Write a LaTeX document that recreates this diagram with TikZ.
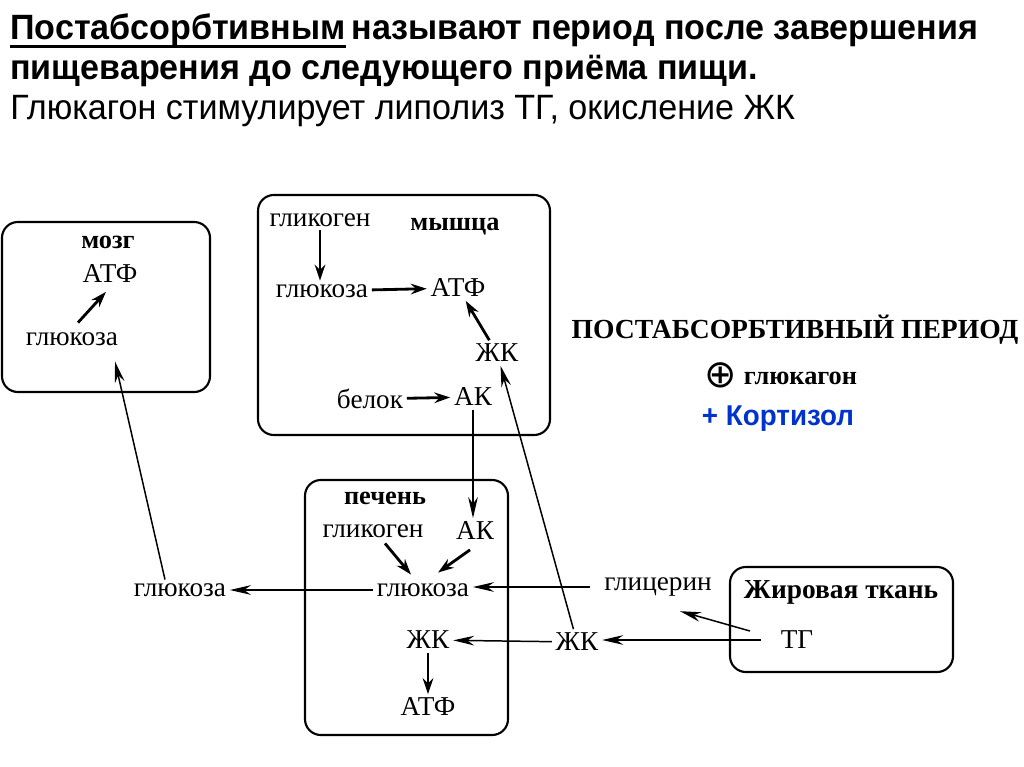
\documentclass[tikz,border=0pt]{standalone}
\usepackage{fontspec}
\setmainfont{Liberation Serif}
\newfontfamily\headfont[FakeStretch=0.97]{Liberation Sans}
\newfontfamily\signfont{DejaVu Sans}
\usepackage{tikz}
\usetikzlibrary{arrows.meta,positioning}
\usepackage{xcolor}
\definecolor{cortblue}{RGB}{0,51,204}
\tikzstyle{organ} = [draw, line width=1.2pt, rounded corners=9pt]
\tikzstyle{sub} = [font=\fontsize{15.5}{17}\selectfont, inner sep=2pt]
\tikzstyle{organname} = [font=\fontsize{15}{17}\selectfont\bfseries, inner sep=1pt]
\tikzstyle{flow} = [line width=0.85pt, -{Stealth[length=12pt,width=5.5pt]}]
\tikzstyle{shortflow} = [line width=1.6pt, -{Stealth[length=9pt,width=6pt]}]
\tikzstyle{head} = [font=\headfont\fontsize{20}{24}\selectfont, inner sep=0pt, anchor=base west]

\begin{document}
\begin{tikzpicture}[x=0.02cm, y=-0.02cm]
\useasboundingbox (0,0) rectangle (1024,767);

% Heading
\node[head, font=\headfont\fontsize{20}{24}\selectfont\bfseries] (hword) at (10,40) {Постабсорбтивным};
\node[head, font=\headfont\fontsize{20}{24}\selectfont\bfseries] (hrest) at ([xshift=0.3em]hword.base east) {называют период после завершения};
\draw[line width=1.8pt] ([yshift=-3.5pt]hword.base west) -- ([yshift=-3.5pt]hword.base east);
\node[head, font=\headfont\fontsize{20}{24}\selectfont\bfseries] (hline2) at (10,80) {пищеварения до следующего приёма пищи.};
\node[head] (hline3) at (10,119) {Глюкагон стимулирует липолиз ТГ, окисление ЖК};

% Organ boxes
\draw[organ] (2,222) rectangle (210,392);
\draw[organ] (258,195) rectangle (550,435);
\draw[organ] (305,480) rectangle (508,735);
\draw[organ] (730,567) rectangle (953,672);

% Brain
\node[organname] (brain) at (108,242) {мозг};
\node[sub] (batp) at (110,274) {АТФ};
\node[sub] (bglc) at (72,339) {глюкоза};
\draw[shortflow] ([shift={(6,-6)}]bglc.north) -- ([shift={(-4,5)}]batp.south);

% Muscle
\node[sub] (mglyc) at (320,220) {гликоген};
\node[organname] (muscle) at (455,227) {мышца};
\node[sub] (mglc) at (322,291) {глюкоза};
\node[sub] (matp) at (458,288) {АТФ};
\node[sub] (mfa) at (497,353) {ЖК};
\node[sub] (mprot) at (370,399) {белок};
\node[sub] (maa) at (473,397) {АК};
\draw[shortflow] (mglyc.south) -- (mglyc.south |- mglc.north);
\draw[shortflow] (mglc) -- (matp);
\draw[shortflow] (mfa) -- (matp);
\draw[shortflow] (mprot) -- (maa);

% Liver
\node[organname] (liver) at (385,498) {печень};
\node[sub] (lglyc) at (373,531) {гликоген};
\node[sub] (laa) at (475,531) {АК};
\node[sub] (lglc) at (423,590) {глюкоза};
\node[sub] (lfa) at (428,640) {ЖК};
\node[sub] (latp) at (428,707) {АТФ};
\draw[shortflow] ([shift={(12,2)}]lglyc.south) -- ([shift={(-12,-5)}]lglc.north);
\draw[shortflow] ([shift={(-5,6)}]laa.south) -- ([shift={(15,-7)}]lglc.north);
\draw[shortflow] (lfa) -- (latp);

% Adipose tissue
\node[organname, font=\fontsize{15.6}{17}\selectfont\bfseries] (adipose) at (841,592) {Жировая ткань};
\node[sub] (tg) at (797,640) {ТГ};
\node[sub] (glycerol) at (658,587) {глицерин};
\node[sub] (ofa) at (577,642) {ЖК};
\node[sub] (oglc) at (180,590) {глюкоза};

% Blood flows
\draw[flow] (maa.south) -- (maa.south |- laa.north);
\draw[flow] (lglc) -- (oglc);
\draw[flow] ([shift={(-15,0)}]oglc.north) -- ([shift={(43,12)}]bglc.south);
\draw[flow, shorten <=6pt] (glycerol.west) -- (glycerol.west -| lglc.east);
\draw[flow] (ofa) -- (lfa);
\draw[flow] (ofa) -- (mfa);
\draw[flow, shorten <=9pt] (tg.west) -- (tg.west -| ofa.east);
\draw[flow] ([shift={(-27,-9)}]tg.west) -- ([shift={(22,11)}]glycerol.south);

% Hormones
\node[font=\fontsize{15.7}{17}\selectfont\bfseries] (period) at (795,330) {ПОСТАБСОРБТИВНЫЙ ПЕРИОД};
\node[font=\fontsize{15}{17}\selectfont\bfseries, inner sep=0pt] (glucagon) at (781,375) {\raisebox{-1.5pt}{\signfont\mdseries\fontsize{22}{22}\selectfont ⊕} глюкагон};
\node[font=\headfont\fontsize{16.3}{18}\selectfont\bfseries, text=cortblue] (cortisol) at (778,419) {+ Кортизол};
\end{tikzpicture}
\end{document}
